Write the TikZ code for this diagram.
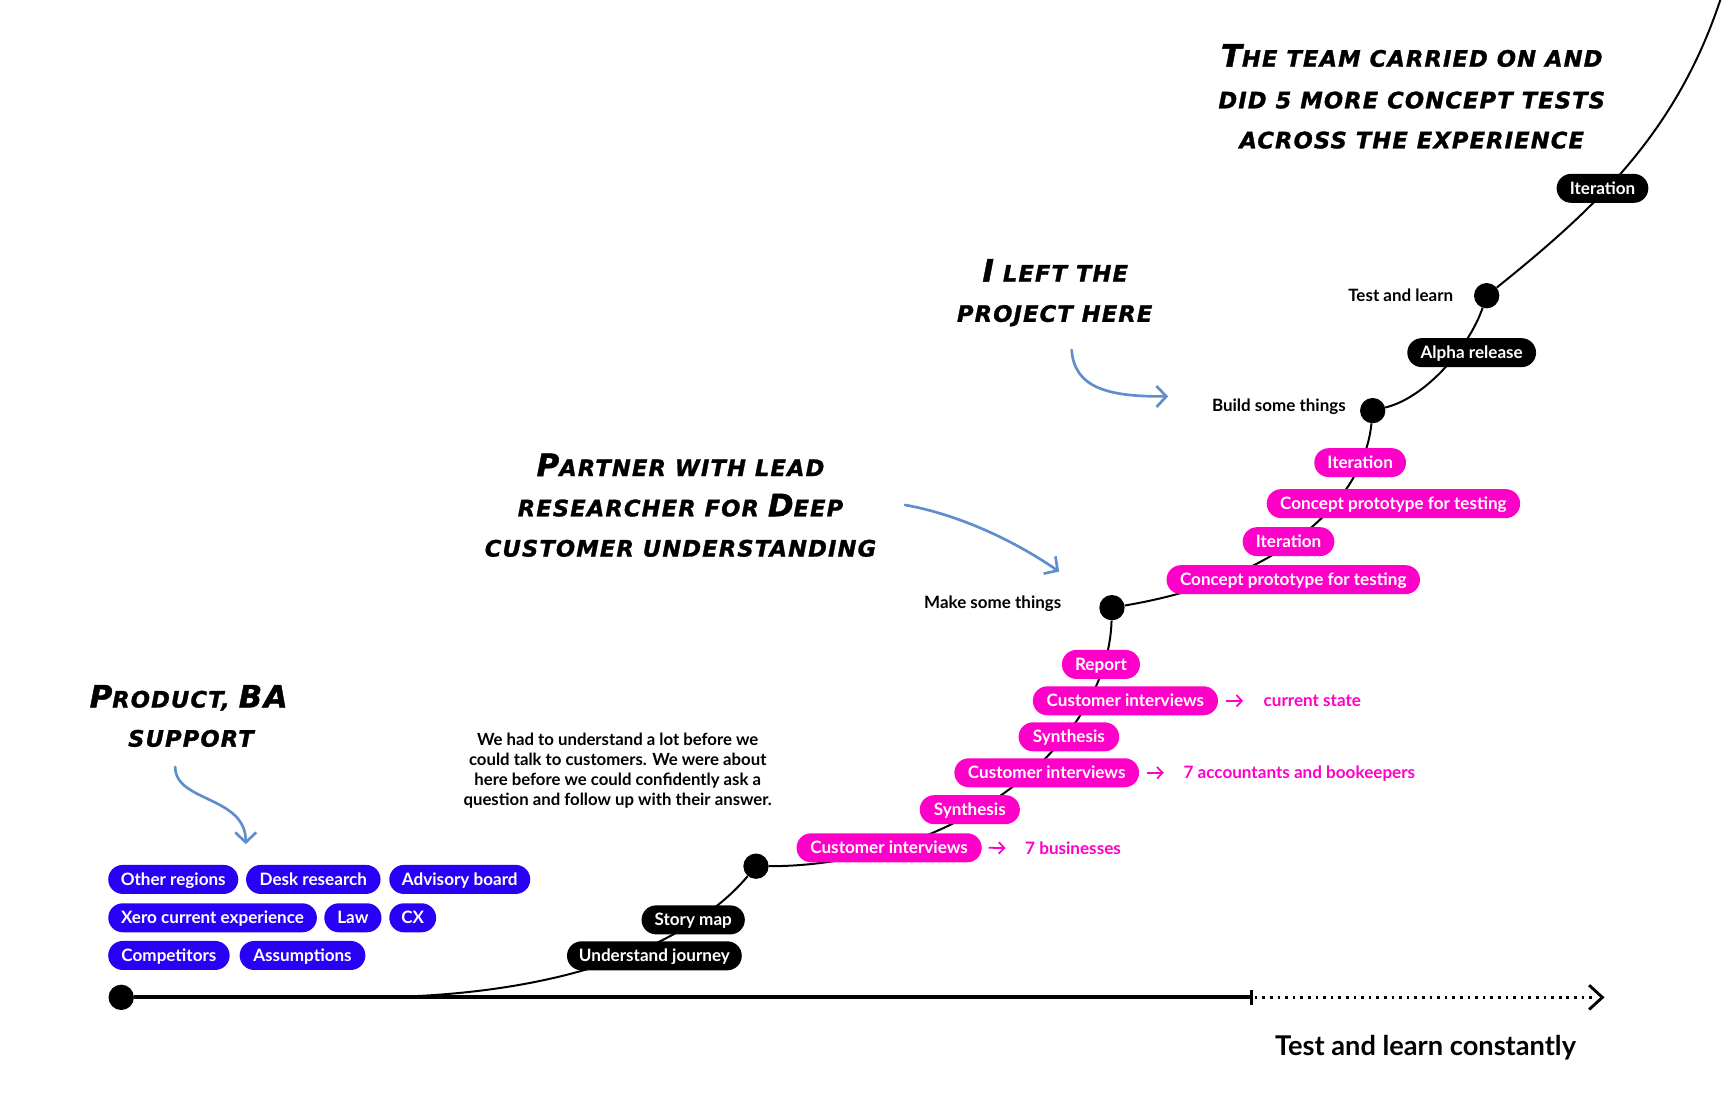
\documentclass[tikz,border=0pt]{standalone}
\usepackage{fontspec}
\setmainfont{Lato}
\newfontfamily\handfont{DejaVu Sans}[LetterSpace=5, FakeBold=1.3]
\usetikzlibrary{arrows.meta}
\definecolor{pblue}{RGB}{40,0,245}
\definecolor{pmag}{RGB}{255,0,200}
\definecolor{arrblue}{RGB}{96,141,204}
\newcommand\bigc[1]{{\fontsize{28}{30}\selectfont #1}}
\tikzset{
  pill/.style={rounded corners=13.15pt, minimum height=26.3pt, inner sep=0pt,
    text=white, text height=11pt, text depth=0pt,
    font=\fontsize{15.5}{18}\selectfont\bfseries},
  bpill/.style={pill, fill=pblue},
  kpill/.style={pill, fill=black},
  mpill/.style={pill, fill=pmag},
  bigdot/.style={circle, fill=black, minimum size=23pt, inner sep=0pt},
  curveline/.style={line width=1.8pt, black},
  axisline/.style={line width=3.6pt, black},
  dotline/.style={line width=2.4pt, black, dash pattern=on 2.4pt off 4.5pt},
  lbl/.style={inner sep=0pt, font=\fontsize{15.4}{18}\selectfont\bfseries},
  body/.style={inner sep=0pt, align=center, font=\fontsize{15.2}{18.1}\selectfont\bfseries},
  magtext/.style={inner sep=0pt, anchor=west, text=pmag, text height=11pt, text depth=0pt,
    font=\fontsize{15.5}{18}\selectfont\bfseries},
  hand/.style={inner sep=0pt, anchor=base, font=\handfont\bfseries\itshape\fontsize{20.5}{22}\selectfont},
  barrow/.style={arrblue, line width=2.4pt, line cap=round, -{Straight Barb[length=9pt,width=19pt]}},
  parrow/.style={pmag, line width=1.6pt, -{Straight Barb[length=5pt,width=10.5pt]}}
}
\begin{document}
\begin{tikzpicture}[x=1pt,y=-1pt]
\fill[white] (0,0) rectangle (1568,1013.6);
\useasboundingbox (0,0) rectangle (1568,1013.6);

% dots and coordinates
\node[bigdot] (d0) at (110,905) {};
\node[bigdot] (d1) at (686,786) {};
\node[bigdot] (d2) at (1009,551.4) {};
\node[bigdot] (d3) at (1245.6,372.6) {};
\node[bigdot] (d4) at (1349,268.3) {};
\coordinate (s0) at (330,905);
\coordinate (topend) at (1561,0);
\coordinate (tick) at (1135.5,905);
\coordinate (ae) at (1454,905);

% axis
\draw[axisline] (d0) -- (tick);
\draw[line width=2.4pt] ([shift={(0,-7)}]tick) -- ([shift={(0,7)}]tick);
\draw[dotline] ([shift={(3,0)}]tick) -- ([shift={(-6,0)}]ae);
\draw[line width=2.6pt, line join=miter] ([shift={(-12,-11)}]ae) -- (ae) -- ([shift={(-12,11)}]ae);

% journey curve
\draw[curveline] (s0) .. controls +(200,0) and +(-51,61) .. (d1);
\draw[curveline] (d1) .. controls +(174,0) and +(-4,129) .. (d2);
\draw[curveline] (d2) .. controls +(160,-27) and +(-7.6,77.4) .. (d3);
\draw[curveline] (d3) .. controls +(49.4,-12.1) and +(-15,44.7) .. (d4);
\draw[curveline] (d4) .. controls +(100,-80.3) and +(-40,120) .. (topend);

% black pills
\node[kpill, minimum width=158.6pt] (uj) at (593.8,867.3) {Understand journey};
\node[kpill, minimum width=93.7pt] (sm) at (629,834.7) {Story map};
\node[kpill, minimum width=116.8pt] (alpha) at (1335.4,320) {Alpha release};
\node[kpill, minimum width=83.2pt] (it3) at (1454.1,170.9) {Iteration};

% magenta pills
\node[mpill, minimum width=168pt] (ci1) at (806.8,769.3) {Customer interviews};
\node[mpill, minimum width=90.9pt] (syn1) at (880,734.7) {Synthesis};
\node[mpill, minimum width=167.6pt] (ci2) at (949.8,701.2) {Customer interviews};
\node[mpill, minimum width=91.3pt] (syn2) at (969.9,668.6) {Synthesis};
\node[mpill, minimum width=168pt] (ci3) at (1021.2,635.9) {Customer interviews};
\node[mpill, minimum width=70.8pt] (rep) at (999,602.9) {Report};
\node[mpill, minimum width=230pt] (cp1) at (1173.5,526) {Concept prototype for testing};
\node[mpill, minimum width=83.2pt] (it1) at (1169.2,491.5) {Iteration};
\node[mpill, minimum width=230pt] (cp2) at (1264.4,457) {Concept prototype for testing};
\node[mpill, minimum width=83.2pt] (it2) at (1234.2,419.8) {Iteration};

% magenta side notes
\node[magtext] (t1) at (930.1,769.5) {7 businesses};
\node[magtext] (t2) at (1073.8,701.2) {7 accountants and bookeepers};
\node[magtext] (t3) at (1146.5,635.9) {current state};
\draw[parrow] ([xshift=6pt]ci1.east) -- ([xshift=-17.7pt]t1.west);
\draw[parrow] ([xshift=6.7pt]ci2.east) -- ([xshift=-17.8pt]t2.west);
\draw[parrow] ([xshift=7.1pt]ci3.east) -- ([xshift=-18.5pt]t3.west);

% blue pills
\node[bpill, minimum width=118pt] (b1) at (157.2,798) {Other regions};
\node[bpill, minimum width=122pt] (b2) at (284.3,798) {Desk research};
\node[bpill, minimum width=127.9pt] (b3) at (417.2,798) {Advisory board};
\node[bpill, minimum width=189.3pt] (b4) at (192.9,832.8) {Xero current experience};
\node[bpill, minimum width=51.9pt] (b5) at (320.2,832.8) {Law};
\node[bpill, minimum width=42.5pt] (b6) at (374.5,832.8) {CX};
\node[bpill, minimum width=110.2pt] (b7) at (153.3,867) {Competitors};
\node[bpill, minimum width=114.1pt] (b8) at (274.5,867) {Assumptions};

% step labels
\node[lbl, anchor=base east] (lmake) at (963.2,552) {Make some things};
\node[lbl, anchor=base east] (lbuild) at (1221.3,373.5) {Build some things};
\node[lbl, anchor=base east] (ltest) at (1318.8,273.7) {Test and learn};

% body note
\node[body] (note) at (560.5,699) {We had to understand a lot before we\\could talk to customers. We were about\\here before we could confidently ask a\\question and follow up with their answer.};

% bottom caption
\node[inner sep=0pt, anchor=base, font=\fontsize{24.7}{26}\selectfont\bfseries] (cap) at (1293.5,957.5) {Test and learn constantly};

% handwritten annotations
\node[hand] (h1a) at (1281,60.5) {\bigc{T}HE TEAM CARRIED ON AND};
\node[hand] (h1b) at (1281,98.3) {DID 5 MORE CONCEPT TESTS};
\node[hand] (h1c) at (1281,134.6) {ACROSS THE EXPERIENCE};
\node[hand] (h2a) at (957.5,255.5) {\bigc{I} LEFT THE};
\node[hand] (h2b) at (957,292) {PROJECT HERE};
\node[hand] (h3a) at (617.5,432) {\bigc{P}ARTNER WITH LEAD};
\node[hand] (h3b) at (617.5,468.5) {RESEARCHER FOR \bigc{D}EEP};
\node[hand] (h3c) at (617.5,505) {CUSTOMER UNDERSTANDING};
\node[hand] (h4a) at (171.2,642) {\bigc{P}RODUCT, \bigc{BA}};
\node[hand] (h4b) at (173.3,677.5) {SUPPORT};

% blue annotation arrows
\coordinate (a1s) at (159,696);
\coordinate (a1e) at (223,766);
\coordinate (a2s) at (972.4,317.5);
\coordinate (a2e) at (1060,359.7);
\coordinate (a3s) at (821.2,458.2);
\coordinate (a3e) at (961.1,518.7);
\draw[barrow] (a1s) .. controls (159,728) and (223,722) .. (a1e);
\draw[barrow] (a2s) .. controls (975,352) and (1005,360) .. (a2e);
\draw[barrow] (a3s) .. controls (865,466) and (915,487) .. (a3e);
\end{tikzpicture}
\end{document}
